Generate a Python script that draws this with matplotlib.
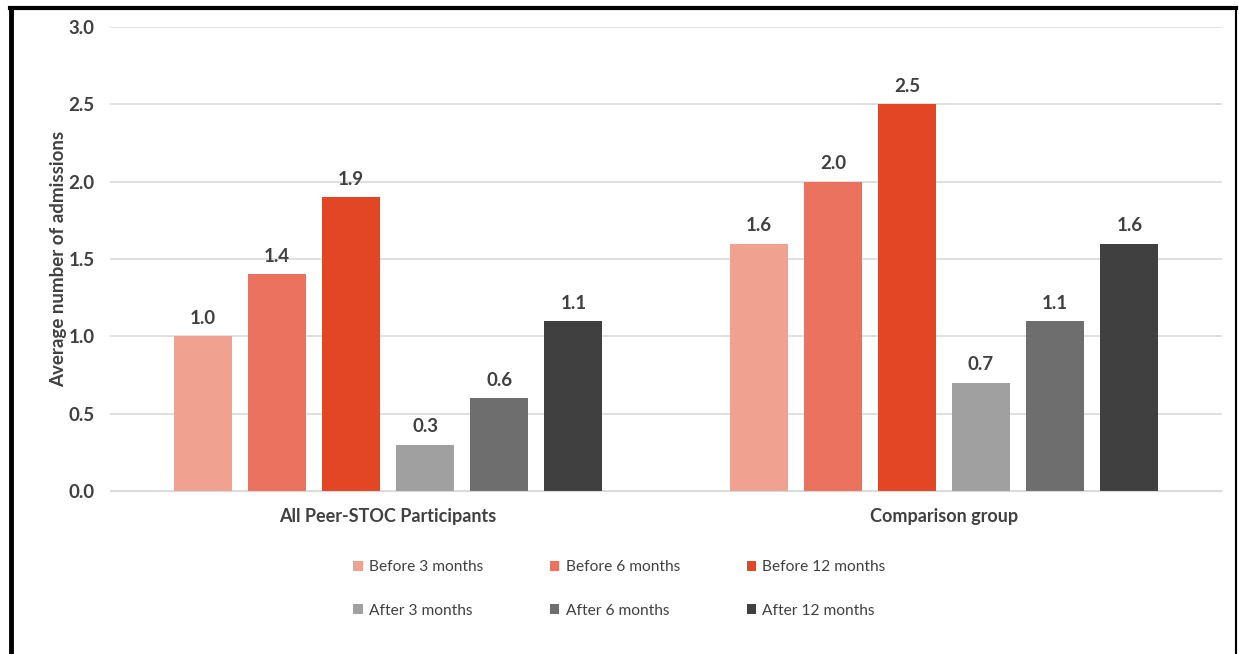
import numpy as np
import matplotlib.pyplot as plt
from matplotlib.lines import Line2D

groups = ["All Peer-STOC Participants", "Comparison group"]
series = ["Before 3 months", "Before 6 months", "Before 12 months",
          "After 3 months", "After 6 months", "After 12 months"]
before_3 = [1.0, 1.6]
before_6 = [1.4, 2.0]
before_12 = [1.9, 2.5]
after_3 = [0.3, 0.7]
after_6 = [0.6, 1.1]
after_12 = [1.1, 1.6]
colors = ["#F0A190", "#EA725E", "#E24625", "#A0A0A0", "#6E6E6E", "#404040"]
yticks = [0.0, 0.5, 1.0, 1.5, 2.0, 2.5, 3.0]

values = [before_3, before_6, before_12, after_3, after_6, after_12]
txt = "#404040"
plt.rcParams['font.family'] = ['Lato', 'DejaVu Sans']

fig = plt.figure(figsize=(12.39, 6.54), dpi=100)
ax = fig.add_axes([110/1239, 1 - 491/654, 1112/1239, 464/654])

x = np.arange(len(groups))
step = 0.1333
width = 0.104
for i, (name, vals, c) in enumerate(zip(series, values, colors)):
    pos = x + (i - 2.5) * step
    bars = ax.bar(pos, vals, width, color=c, label=name, zorder=2)
    for b, v in zip(bars, vals):
        ax.text(b.get_x() + b.get_width() / 2, v + 0.06, f"{v:.1f}",
                ha="center", va="bottom", fontsize=13.5, fontweight="bold", color=txt)

ax.set_xlim(-0.5, 1.5)
ax.set_ylim(0, 3.0)
ax.set_yticks(yticks)
ax.set_yticklabels([f"{t:.1f}" for t in yticks], fontsize=13.5, fontweight="bold", color=txt)
ax.set_xticks(x)
ax.set_xticklabels(groups, fontsize=13, fontweight="bold", color=txt)
ax.tick_params(axis="both", length=0)
ax.tick_params(axis="y", pad=11)
ax.tick_params(axis="x", pad=12)
ax.yaxis.grid(True, color="#D9D9D9", linewidth=1.2, zorder=0)
ax.set_axisbelow(True)
for s in ["top", "right", "left"]:
    ax.spines[s].set_visible(False)
ax.spines["bottom"].set_color("#D9D9D9")
ax.set_ylabel("Average number of admissions", fontsize=13.5, fontweight="bold",
              color=txt, labelpad=1)

# row-wise legend order (matplotlib fills columns first)
handles, labels = ax.get_legend_handles_labels()
order = [0, 3, 1, 4, 2, 5]
leg = fig.legend([handles[i] for i in order], [labels[i] for i in order],
                 loc="center", bbox_to_anchor=(0.5, 1 - 589/654),
                 ncol=3, frameon=False, fontsize=11.2, handlelength=0.6,
                 handleheight=0.6, handletextpad=0.4, columnspacing=4.3,
                 labelspacing=1.9)
for t in leg.get_texts():
    t.set_color(txt)

# frame around the picture
fig.add_artist(Line2D([10/1239, 1236/1239], [1 - 8/654, 1 - 8/654], color="black",
                      linewidth=3, transform=fig.transFigure))
fig.add_artist(Line2D([11/1239, 11/1239], [0, 1 - 8/654], color="black",
                      linewidth=3.5, transform=fig.transFigure))
fig.add_artist(Line2D([1236/1239, 1236/1239], [0, 1 - 8/654], color="black",
                      linewidth=1.5, transform=fig.transFigure))

fig.savefig("out.png", dpi=100)
